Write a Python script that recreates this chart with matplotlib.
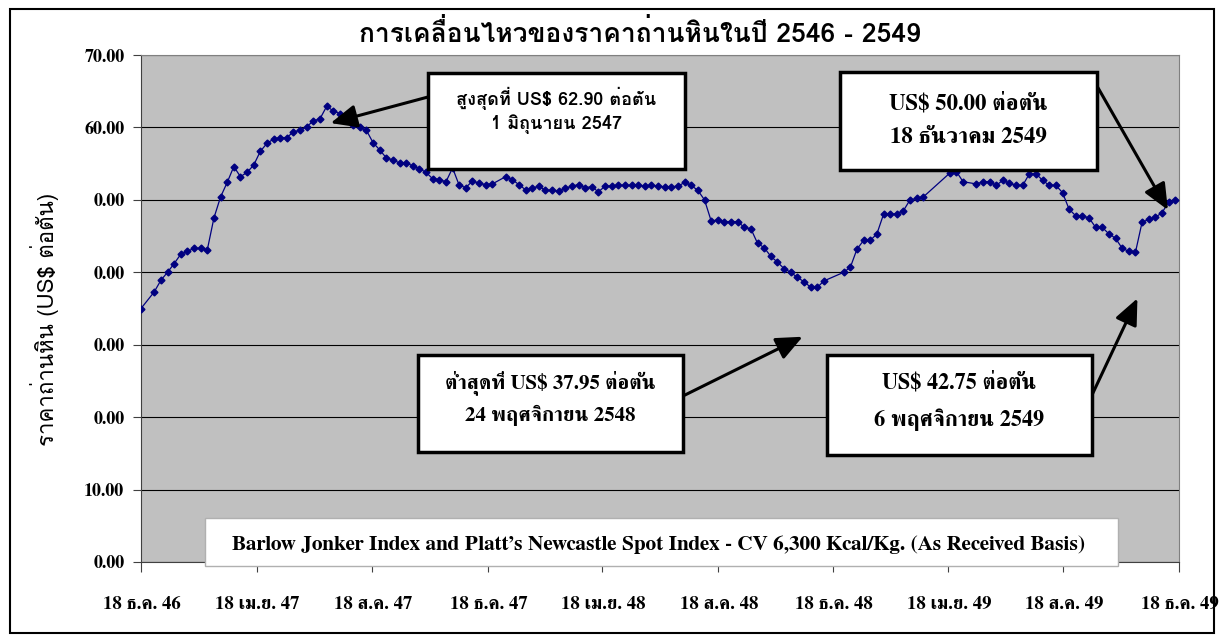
import matplotlib
matplotlib.use('Agg')
import matplotlib.pyplot as plt
import matplotlib.dates as mdates
from matplotlib.patches import Rectangle
from matplotlib.transforms import ScaledTranslation
import numpy as np
import pandas as pd

# weekly coal price (US$/ton), week number counted from 18 Dec 2003
weeks = [0, 2, 3, 4, 5, 6, 7, 8, 9, 10, 11, 12, 13, 14, 15, 16, 17, 18, 19, 20,
         21, 22, 23, 24, 25, 26, 27, 28, 29, 30, 31, 32, 33, 34, 35, 36, 37, 38, 39, 40,
         41, 42, 43, 44, 45, 46, 47, 48, 49, 50, 51, 52, 53, 55, 56, 57, 58, 59, 60, 61,
         62, 63, 64, 65, 66, 67, 68, 69, 70, 71, 72, 73, 74, 75, 76, 77, 78, 79, 80, 81,
         82, 83, 84, 85, 86, 87, 88, 89, 90, 91, 92, 93, 94, 95, 96, 97, 98, 99, 100, 101,
         102, 103, 106, 107, 108, 109, 110, 111, 112, 113, 114, 115, 116, 117, 118, 122, 123, 124, 126, 127,
         128, 129, 130, 131, 132, 133, 134, 135, 136, 137, 138, 139, 140, 141, 142, 143, 144, 145, 146, 147,
         148, 149, 150, 151, 152, 153, 154, 155, 156]
price = [35.0, 37.3, 38.9, 40.0, 41.2, 42.5, 42.9, 43.3, 43.3, 43.1, 47.5, 50.4, 52.4, 54.6, 53.2, 53.8, 54.8, 56.7, 57.8, 58.4,
         58.6, 58.6, 59.4, 59.6, 60.1, 60.9, 61.2, 62.9, 62.3, 61.9, 61.1, 60.3, 60.0, 59.6, 57.9, 56.9, 55.8, 55.5, 55.1, 55.1,
         54.7, 54.3, 53.8, 52.9, 52.8, 52.5, 54.4, 52.0, 51.7, 52.6, 52.3, 52.1, 52.2, 53.2, 52.8, 52.1, 51.4, 51.6, 51.9, 51.3,
         51.3, 51.2, 51.6, 51.9, 52.1, 51.7, 51.8, 51.1, 51.9, 51.9, 52.0, 52.0, 52.0, 52.0, 51.9, 52.0, 51.9, 51.8, 51.8, 51.9,
         52.4, 52.0, 51.3, 50.0, 47.1, 47.2, 47.0, 47.0, 47.0, 46.2, 46.0, 44.0, 43.4, 42.2, 41.4, 40.5, 40.0, 39.3, 38.7, 37.95,
         37.9, 38.8, 40.0, 40.7, 43.2, 44.4, 44.4, 45.3, 48.0, 48.0, 48.1, 48.5, 50.0, 50.2, 50.4, 53.7, 53.9, 52.5, 52.2, 52.5,
         52.5, 52.0, 52.7, 52.3, 52.0, 52.0, 53.6, 53.6, 52.7, 52.0, 52.0, 51.0, 48.7, 47.8, 47.8, 47.5, 46.2, 46.2, 45.3, 44.7,
         43.3, 42.9, 42.75, 46.9, 47.3, 47.6, 48.2, 49.7, 50.0]

tick_dates = ['2003-12-18', '2004-04-18', '2004-08-18', '2004-12-18', '2005-04-18',
              '2005-08-18', '2005-12-18', '2006-04-18', '2006-08-18', '2006-12-18']
x_labels = ['18 ธ.ค. 46', '18 เม.ย. 47', '18 ส.ค. 47', '18 ธ.ค. 47', '18 เม.ย. 48',
            '18 ส.ค. 48', '18 ธ.ค. 48', '18 เม.ย. 49', '18 ส.ค. 49', '18 ธ.ค. 49']
y_ticks = [0, 10, 20, 30, 40, 50, 60, 70]
y_labels = ['0.00', '10.00', '0.00', '0.00', '0.00', '0.00', '60.00', '70.00']

title = 'การเคลื่อนไหวของราคาถ่านหินในปี 2546 - 2549'
ylab = 'ราคาถ่านหิน (US$ ต่อตัน)'
source = 'Barlow Jonker Index and Platt\u2019s Newcastle Spot Index - CV 6,300 Kcal/Kg. (As Received Basis)'

SERIF = ['FreeSerif', 'DejaVu Serif']
SANS = ['Loma', 'DejaVu Sans']

W, H = 1224, 643
def fx(px):
    return px / W
def fy(py):
    return 1 - py / H

start = pd.Timestamp('2003-12-18')
dates = start + pd.to_timedelta(np.array(weeks) * 7, unit='D')

def wk(w):
    return mdates.date2num(start + pd.Timedelta(days=w * 7))

fig = plt.figure(figsize=(12.24, 6.43), dpi=100)
ax = fig.add_axes([fx(141), fy(562), (1179 - 141) / W, (562 - 55) / H])
ax.set_facecolor('#c0c0c0')
ax.set_axisbelow(True)
ax.yaxis.grid(True, color='black', lw=0.8)

ax.plot(dates, price, color='#000080', lw=0.9, marker='D', ms=3.5, zorder=3)

ax.set_ylim(0, 70)
ax.set_xlim(start, pd.Timestamp('2006-12-18'))
ax.set_yticks(y_ticks)
ax.set_yticklabels(y_labels, family=SERIF, fontweight='bold', fontsize=13)
ax.set_xticks(pd.to_datetime(tick_dates))
ax.set_xticklabels(x_labels, family=SERIF, fontweight='bold', fontsize=13.5)
ax.tick_params(axis='y', length=6, pad=6, width=0.8, color='#404040')
ax.tick_params(axis='x', length=7.5, pad=17, width=0.8, color='#404040')
for lab in ax.get_xticklabels():
    lab.set_transform(lab.get_transform() + ScaledTranslation(1 / 100, 0, fig.dpi_scale_trans))

for s in ['top', 'right']:
    ax.spines[s].set_color('#808080')
ax.spines['left'].set_color('#404040')
ax.spines['bottom'].set_color('#404040')

# title, axis label, outer frame
fig.text(fx(640), fy(33), title, family=SANS, fontweight='bold', fontsize=19, ha='center', va='center')
fig.text(fx(45), fy(319), ylab, family=SANS, fontsize=16, rotation=90, ha='center', va='center')
fig.add_artist(Rectangle((fx(10), fy(633)), (1214 - 10) / W, (633 - 9) / H, transform=fig.transFigure,
                         fill=False, edgecolor='black', lw=1.5, zorder=10))

# annotation boxes: (x0, y0, x1, y1) in pixels, two text lines, font
boxes = [
    ((428, 73, 685, 169), ['สูงสุดที่ US$ 62.90 ต่อตัน', '1 มิถุนายน 2547'], (98, 124), SANS, 13),
    ((840, 72, 1097, 170), ['US$ 50.00 ต่อตัน', '18 ธันวาคม 2549'], (104, 137), SERIF, 16.5),
    ((418, 355, 683, 452), ['ต่ำสุดที่ US$ 37.95 ต่อตัน', '24 พฤศจิกายน 2548'], (383, 415), SERIF, 15),
    ((827, 355, 1092, 455), ['US$ 42.75 ต่อตัน', '6 พฤศจิกายน 2549'], (383, 420), SERIF, 16),
]
for (x0, y0, x1, y1), lines, ys, fam, fs in boxes:
    fig.add_artist(Rectangle((fx(x0), fy(y1)), (x1 - x0) / W, (y1 - y0) / H, transform=fig.transFigure,
                             facecolor='white', edgecolor='black', lw=2.5, zorder=6))
    for t, yy in zip(lines, ys):
        fig.text(fx((x0 + x1) / 2), fy(yy), t, family=fam, fontweight='bold', fontsize=fs,
                 ha='center', va='center', zorder=7)

# source box at the bottom of the plot
fig.add_artist(Rectangle((fx(205), fy(566)), (1118 - 205) / W, (566 - 518) / H, transform=fig.transFigure,
                         facecolor='white', edgecolor='#b0b0b0', lw=1, zorder=6))
fig.text(fx(659), fy(545), source, family=SERIF, fontweight='bold', fontsize=15.3, ha='center', va='center', zorder=7)

# arrows: tip in data coords, tail in figure pixels
arrows = [
    ((28.6, 60.6), (428, 97)),
    ((154.9, 48.6), (1097, 86)),
    ((99.8, 31.1), (683, 396)),
    ((150.3, 36.4), (1092, 395)),
]
for (w, v), (px, py) in arrows:
    ax.annotate('', xy=(wk(w), v), xytext=(fx(px), fy(py)), textcoords='figure fraction',
                arrowprops=dict(arrowstyle='-|>,head_length=0.8,head_width=0.35', color='black',
                                lw=2.2, mutation_scale=20, shrinkA=0, shrinkB=0), zorder=5)

fig.savefig('out.png', dpi=100)
